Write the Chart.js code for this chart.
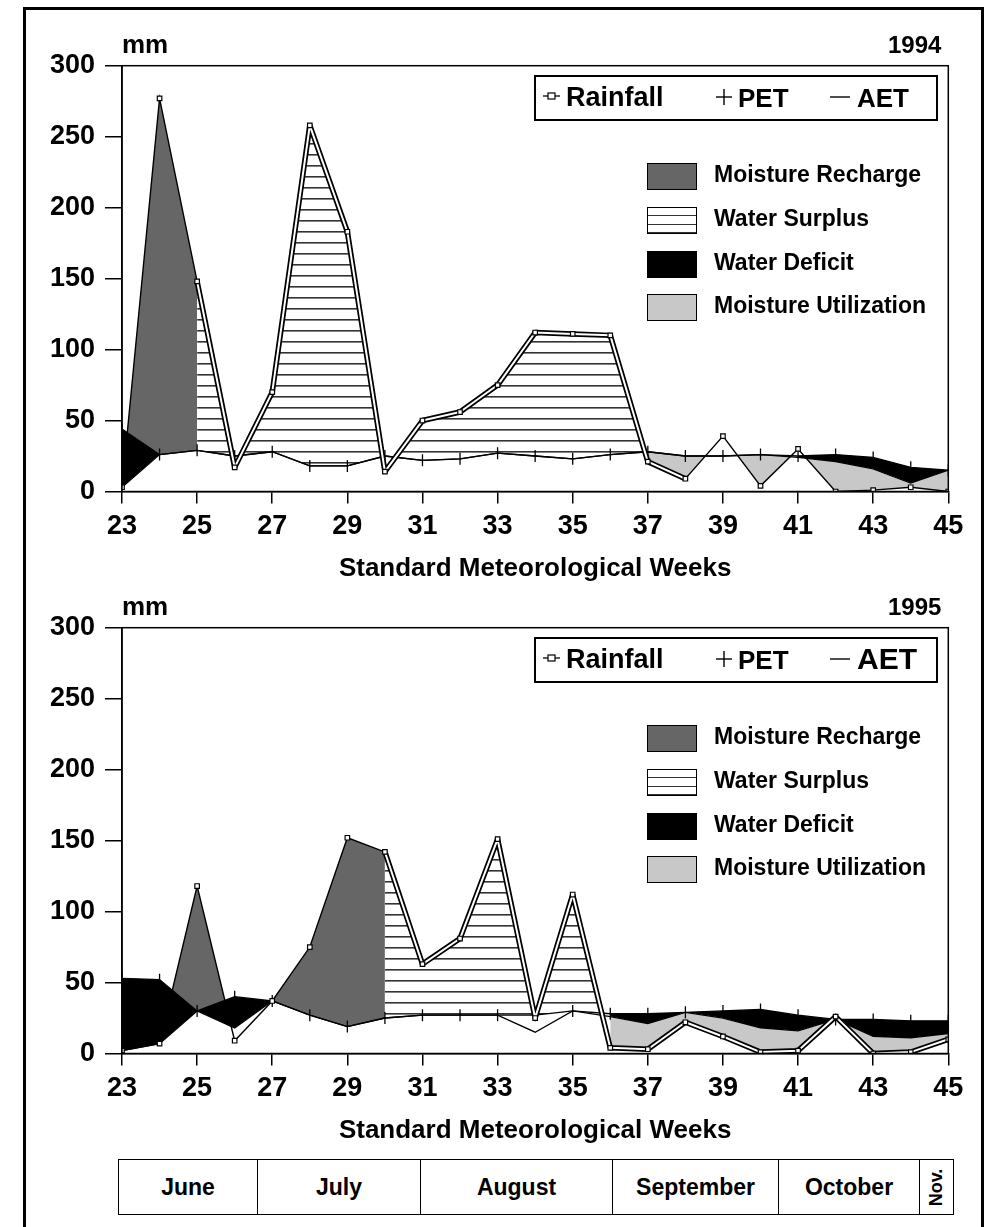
<!DOCTYPE html>
<html>
<head>
<meta charset="utf-8">
<script src="https://cdn.jsdelivr.net/npm/chart.js@4.4.1/dist/chart.umd.min.js"></script>
<style>
  body { margin: 0; background: #fff; width: 993px; height: 1227px; position: relative; overflow: hidden;
         font-family: "Liberation Sans", Arial, sans-serif; font-weight: bold; color: #000; }
  .frame { position: absolute; left: 23px; top: 7px; width: 955px; height: 1300px; border: 3px solid #000; }
  .panel { position: absolute; left: 0; width: 993px; height: 590px; }
  .panel canvas { position: absolute; left: 0; top: 0; }
  .txt { position: absolute; white-space: nowrap; line-height: 1; }
  .sym { position: absolute; }
  .lgbox { position: absolute; left: 534px; top: 75px; width: 400px; height: 42px; border: 2px solid #000; }
  .sw { position: absolute; left: 647px; width: 48px; height: 25px; border: 1px solid #000; }
  .months { position: absolute; left: 118px; top: 1159px; height: 54px; display: flex; border: 1.5px solid #000; }
  .months div { border-left: 1.5px solid #000; display: flex; align-items: center; justify-content: center; font-size: 23px; }
  .months div:first-child { border-left: none; }
</style>
</head>
<body>
<div class="frame"></div>
<div class="panel" id="p94" style="top:0px"><canvas id="c94" width="993" height="590"></canvas></div>
<div class="panel" id="p95" style="top:562px"><canvas id="c95" width="993" height="590"></canvas></div>
<div class="months">
  <div style="width:138px">June</div>
  <div style="width:162px">July</div>
  <div style="width:191px">August</div>
  <div style="width:165px">September</div>
  <div style="width:140px">October</div>
  <div style="width:33px"><span style="transform:rotate(-90deg);display:inline-block;font-size:18px">Nov.</span></div>
</div>

<script>
// Standard meteorological weeks
const weeks = [23,24,25,26,27,28,29,30,31,32,33,34,35,36,37,38,39,40,41,42,43,44,45];
const weekTicks = [23,25,27,29,31,33,35,37,39,41,43,45];
const mmTicks = [0,50,100,150,200,250,300];

// 1994 (mm)
const rain94 = [3,277,148,17,70,258,183,14,50,56,75,112,111,110,21,9,39,4,30,0,1,3,0];
const pet94  = [44,26,29,25,28,18,18,25,22,23,27,25,23,26,28,25,25,26,25,26,24,17,15];
const aet94  = [3,26,29,25,28,18,18,25,22,23,27,25,23,26,28,25,25,26,24,21,16,6,15];
// week ranges of each water balance zone
const recharge94 = [[23,25]];
const surplus94  = [[25,37]];
const deficit94  = [[23,24],[41,45]];
const util94     = [[37,45]];
const double94   = [[25,38]];

// 1995 (mm)
const rain95 = [2,7,118,9,37,75,152,142,63,81,151,25,112,4,3,22,12,1,2,26,0,1,10];
const pet95  = [53,52,30,40,37,27,19,25,27,27,27,27,30,28,28,29,30,31,27,24,24,23,23];
const aet95  = [2,7,30,18,37,27,19,25,27,27,27,15,30,26,21,29,25,18,16,24,12,11,14];
const recharge95 = [[23,30]];
const surplus95  = [[30,36]];
const deficit95  = [[23,27],[36,45]];
const util95     = [[36,45]];
const double95   = [[30,45]];

Chart.defaults.font.family = '"Liberation Sans", Arial, sans-serif';
Chart.defaults.color = '#000';

function hatch() {
  const c = document.createElement('canvas');
  c.width = 8; c.height = 11;
  const g = c.getContext('2d');
  g.fillStyle = '#fff'; g.fillRect(0, 0, 8, 11);
  g.fillStyle = '#333'; g.fillRect(0, 0, 8, 1.6);
  return g.createPattern(c, 'repeat');
}

const pts = vals => vals.map((v, i) => ({x: weeks[i], y: v}));
const mask = (vals, ranges) => vals.map((v, i) =>
  ranges.some(([a, b]) => weeks[i] >= a && weeks[i] <= b) ? v : null);

const boxPlugin = {
  id: 'box',
  afterDatasetsDraw(chart) {
    const {ctx, chartArea: a} = chart;
    ctx.save();
    ctx.strokeStyle = '#000'; ctx.lineWidth = 1.5;
    ctx.strokeRect(a.left, a.top, a.right - a.left, a.bottom - a.top);
    ctx.restore();
  }
};

function makeChart(id, rain, pet, aet, zones) {
  const none = 'rgba(0,0,0,0)';
  const area = (vals, target, color, order) => ({
    data: pts(vals), borderWidth: 0, pointRadius: 0, order,
    fill: {target, above: color, below: none}
  });
  return new Chart(document.getElementById(id), {
    type: 'line',
    data: {
      datasets: [
        // 0 rainfall markers
        { data: pts(rain), showLine: false, pointStyle: 'rect', pointRadius: 3.2,
          pointBackgroundColor: '#fff', pointBorderColor: '#000', pointBorderWidth: 1.2, order: 0 },
        // 1,2 double line look of rainfall
        { data: pts(mask(rain, zones.dbl)), borderColor: '#fff', borderWidth: 2, borderJoinStyle: 'bevel',
          pointRadius: 0, order: 1 },
        { data: pts(mask(rain, zones.dbl)), borderColor: '#000', borderWidth: 5.5, borderJoinStyle: 'bevel',
          pointRadius: 0, order: 2 },
        // 3 rainfall
        { data: pts(rain), borderColor: '#000', borderWidth: 1.4, pointRadius: 0, order: 3 },
        // 4 PET
        { data: pts(pet), borderColor: '#000', borderWidth: 1.3, pointStyle: 'line', rotation: 90,
          pointRadius: 6, pointBorderColor: '#000', pointBorderWidth: 1.3, order: 4 },
        // 5 AET
        { data: pts(aet), borderColor: '#000', borderWidth: 1.3, pointRadius: 0, order: 5 },
        // zones
        area(mask(rain, zones.recharge), 4, '#666666', 10),
        area(mask(rain, zones.surplus), 4, hatch(), 9),
        area(mask(pet, zones.deficit), 5, '#000000', 8),
        area(mask(aet, zones.util), 3, '#c8c8c8', 7)
      ]
    },
    options: {
      responsive: false, animation: false, devicePixelRatio: 1,
      layout: { padding: { left: 0, right: 44.7, top: 65.7, bottom: 0 } },
      plugins: { legend: { display: false }, tooltip: { enabled: false } },
      scales: {
        x: {
          type: 'linear', min: 23, max: 45,
          afterBuildTicks: s => { s.ticks = weekTicks.map(v => ({value: v})); },
          afterFit: s => { s.height = 98.5; },
          ticks: { font: { size: 27, weight: 'bold' }, color: '#000', padding: 7, maxRotation: 0, autoSkip: false },
          grid: { drawOnChartArea: false, color: '#000', lineWidth: 1.5, tickLength: 12 },
          border: { color: '#000', width: 1.5 },
          title: { display: true, text: 'Standard Meteorological Weeks', color: '#000',
                   font: { size: 26, weight: 'bold' }, padding: { top: 0, bottom: 6 } }
        },
        y: {
          min: 0, max: 300,
          afterBuildTicks: s => { s.ticks = mmTicks.map(v => ({value: v})); },
          afterFit: s => { s.width = 122; },
          ticks: { font: { size: 27, weight: 'bold' }, color: '#000', padding: 10 },
          grid: { drawOnChartArea: false, color: '#000', lineWidth: 1.5, tickLength: 17 },
          border: { color: '#000', width: 1.5 }
        }
      }
    },
    plugins: [boxPlugin]
  });
}

function overlay(panelId, year, aetSize) {
  const p = document.getElementById(panelId);
  const put = (html, left, baseline, size, extra) => {
    const d = document.createElement('div');
    d.className = 'txt';
    d.style.left = left + 'px';
    d.style.top = (baseline - 0.8465 * size) + 'px';
    d.style.fontSize = size + 'px';
    if (extra) d.style.cssText += extra;
    d.innerHTML = html;
    p.appendChild(d);
  };
  const sym = (svg, left, top) => {
    const d = document.createElement('div');
    d.className = 'sym';
    d.style.left = left + 'px';
    d.style.top = top + 'px';
    d.innerHTML = svg;
    p.appendChild(d);
  };
  put('mm', 122, 53, 26);
  put(year, 888, 53, 24);
  const box = document.createElement('div');
  box.className = 'lgbox';
  p.appendChild(box);
  sym('<svg width="17" height="10" style="display:block"><line x1="0" y1="5" x2="17" y2="5" stroke="#000" stroke-width="1.3"/><rect x="5" y="2" width="7" height="6" fill="#fff" stroke="#000" stroke-width="1.2"/></svg>', 543, 91);
  put('Rainfall', 566, 107, 27);
  sym('<svg width="16" height="16" style="display:block"><line x1="0" y1="8" x2="16" y2="8" stroke="#000" stroke-width="1.4"/><line x1="8" y1="0" x2="8" y2="16" stroke="#000" stroke-width="1.4"/></svg>', 716, 89);
  put('PET', 738, 107, 26);
  sym('<svg width="20" height="4" style="display:block"><line x1="0" y1="2" x2="20" y2="2" stroke="#000" stroke-width="1.4"/></svg>', 830, 95);
  put('AET', 857, 107, aetSize);
  const sw = [
    ['Moisture Recharge', 'background:#666'],
    ['Water Surplus', 'background:repeating-linear-gradient(to bottom,#fff 0,#fff 7px,#333 7px,#333 8.5px)'],
    ['Water Deficit', 'background:#000'],
    ['Moisture Utilization', 'background:#c8c8c8']
  ];
  const tops = [163, 207, 251, 294];
  sw.forEach(([name, bg], i) => {
    const s = document.createElement('div');
    s.className = 'sw';
    s.style.cssText = 'top:' + tops[i] + 'px;' + bg;
    p.appendChild(s);
    put(name, 714, tops[i] + 19, 23);
  });
}

makeChart('c94', rain94, pet94, aet94,
  {recharge: recharge94, surplus: surplus94, deficit: deficit94, util: util94, dbl: double94});
makeChart('c95', rain95, pet95, aet95,
  {recharge: recharge95, surplus: surplus95, deficit: deficit95, util: util95, dbl: double95});
overlay('p94', '1994', 26);
overlay('p95', '1995', 30);
</script>
</body>
</html>
